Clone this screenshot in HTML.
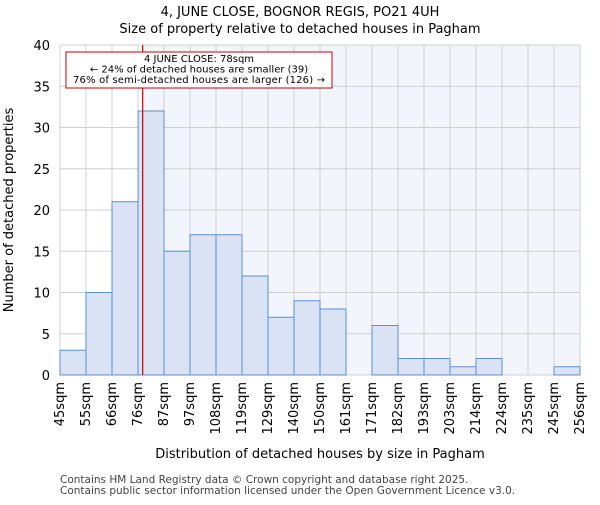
<!DOCTYPE html>
<html><head><meta charset="utf-8"><style>
body{margin:0;background:#fff;font-family:"Liberation Sans","DejaVu Sans",sans-serif}
svg text{font-family:"DejaVu Sans","Liberation Sans",sans-serif}
</style></head><body>
<svg id="chart" width="600" height="500" xmlns="http://www.w3.org/2000/svg">
<text x="300" y="16" text-anchor="middle" font-size="13">4, JUNE CLOSE, BOGNOR REGIS, PO21 4UH</text>
<text x="300" y="33" text-anchor="middle" font-size="13">Size of property relative to detached houses in Pagham</text>
<g id="plot"></g>
<text x="320" y="458" text-anchor="middle" font-size="13">Distribution of detached houses by size in Pagham</text>
<text transform="translate(13,210) rotate(-90)" text-anchor="middle" font-size="13">Number of detached properties</text>
<text x="60" y="483" font-size="10.5" fill="#444">Contains HM Land Registry data © Crown copyright and database right 2025.</text>
<text x="60" y="494" font-size="10.5" fill="#444">Contains public sector information licensed under the Open Government Licence v3.0.</text>
</svg>
<script>
const categories=["45sqm","55sqm","66sqm","76sqm","87sqm","97sqm","108sqm","119sqm","129sqm","140sqm","150sqm","161sqm","171sqm","182sqm","193sqm","203sqm","214sqm","224sqm","235sqm","245sqm","256sqm"];
const counts=[3,10,21,32,15,17,17,12,7,9,8,0,6,2,2,1,2,0,0,1];
const yTicks=[0,5,10,15,20,25,30,35,40];
const markerIndex=3.18;
const NS="http://www.w3.org/2000/svg";
const L=60,R=580,T=45,B=375,yMax=40;
const bw=(R-L)/counts.length;
const xs=i=>L+i*bw, ys=v=>B-(v/yMax)*(B-T);
const g=document.getElementById('plot');
function mk(t,a){const e=document.createElementNS(NS,t);for(const k in a)e.setAttribute(k,a[k]);g.appendChild(e);return e;}
const mx=xs(markerIndex);
let e=mk('rect',{x:mx,y:T,width:R-mx,height:B-T,fill:'#f2f5fc'});


for(let i=0;i<=counts.length;i++){e=mk('line',{x1:xs(i),x2:xs(i),y1:T,y2:B,stroke:'#d0d0d0'});

}
yTicks.forEach(v=>{e=mk('line',{x1:L,x2:R,y1:ys(v),y2:ys(v),stroke:'#d0d0d0'});


e=mk('text',{x:L-10,y:ys(v)+5,'text-anchor':'end','font-size':13});e.textContent=v;

});
counts.forEach((c,i)=>{if(c<=0)return;e=mk('rect',{x:xs(i),y:ys(c),width:bw,height:B-ys(c),fill:'#dae3f3',stroke:'#5b8fd6','stroke-width':1});

});
categories.forEach((c,i)=>{const x=xs(i)+4;e=mk('text',{x:x,y:B+7,'font-size':13,transform:`rotate(-90 ${x} ${B+7})`,'text-anchor':'end'});e.textContent=c;

});
e=mk('line',{x1:mx,x2:mx,y1:T,y2:B,stroke:'#cc0000','stroke-width':1.2});


e=mk('rect',{x:66,y:52,width:266,height:36,fill:'#fff',stroke:'#cc0000'});


["4 JUNE CLOSE: 78sqm","← 24% of detached houses are smaller (39)","76% of semi-detached houses are larger (126) →"].forEach((t,i)=>{e=mk('text',{x:199,y:62+i*10.5,'text-anchor':'middle','font-size':10,textLength:i==2?252:null});e.textContent=t;if(i!=2)e.removeAttribute('textLength');

});
</script>
</body></html>
